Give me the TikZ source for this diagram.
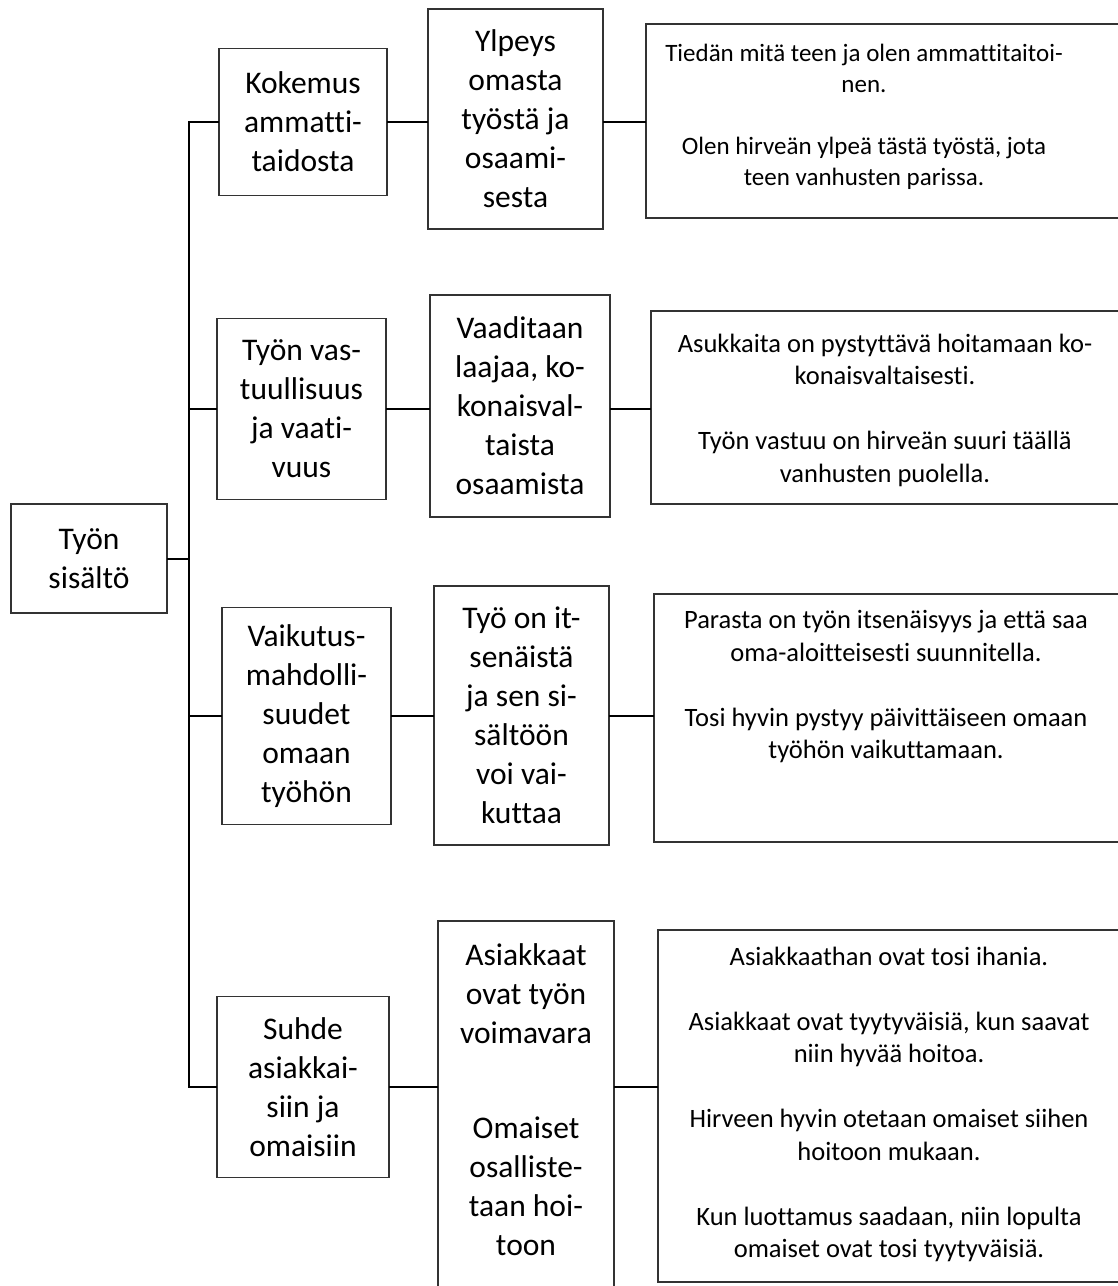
\documentclass[tikz,border=0pt]{standalone}
\usepackage{fontspec}
\setmainfont{Carlito}[Ligatures=NoCommon]

\begin{document}
\begin{tikzpicture}[x=1pt,y=-1pt,
                    box/.style={draw=black!80,line width=1.2pt,inner sep=0pt,
                                align=center,font=\fontsize{31.5}{39}\selectfont},
                    quote/.style={draw=black!80,line width=1.2pt,inner sep=0pt},
                    quotetext/.style={align=center,inner sep=0pt,
                                      font=\fontsize{26.5}{32.5}\selectfont},
                    link/.style={line width=2pt,line cap=rect}]
    \useasboundingbox (0,0) rectangle (1118,1286);

    %% Main theme and the spine.
    \node[box,minimum width=156pt,minimum height=109pt] (root) at (89,558.5) {Työn\\sisältö};
    \coordinate (spine) at (189,0);

    % Categories.
    \node[box,minimum width=168pt,minimum height=147pt] (k1) at (303,122)
        {Kokemus\\ammatti-\\taidosta};
    \node[box,minimum width=169pt,minimum height=181pt] (k2) at (301.5,409)
        {Työn vas-\\tuullisuus\\ja vaati-\\vuus};
    \node[box,minimum width=169pt,minimum height=217pt] (k3) at (306.5,716)
        {Vaikutus-\\mahdolli-\\suudet\\omaan\\työhön};
    \node[box,minimum width=172pt,minimum height=181pt] (k4) at (303,1087)
        {Suhde\\asiakkai-\\siin ja\\omaisiin};

    % Sub-categories.
    \node[box,minimum width=175pt,minimum height=220pt] (s1) at (515.5,119)
        {Ylpeys\\omasta\\työstä ja\\osaami-\\sesta};
    \node[box,minimum width=180pt,minimum height=222pt] (s2) at (520,406)
        {Vaaditaan\\laajaa, ko-\\konaisval-\\taista\\osaamista};
    \node[box,minimum width=175pt,minimum height=259pt] (s3) at (521.5,715.5)
        {Työ on it-\\senäistä\\ja sen si-\\sältöön\\voi vai-\\kuttaa};
    % this one runs off the bottom of the page
    \node[box,minimum width=176pt,minimum height=374pt] (s4) at (526,1108)
        {Asiakkaat\\ovat työn\\voimavara\\[56pt]Omaiset\\osalliste-\\taan hoi-\\toon\\[-23pt]};

    % Quotes: frames run off the right edge, text set on its own.
    \node[quote,minimum width=478pt,minimum height=194pt] (q1) at (885,121) {};
    \node[quote,minimum width=473pt,minimum height=193pt] (q2) at (887.5,407.5) {};
    \node[quote,minimum width=470pt,minimum height=248pt] (q3) at (889,718) {};
    \node[quote,minimum width=466pt,minimum height=352pt] (q4) at (891,1106) {};

    \node[quotetext,font=\fontsize{25}{31}\selectfont] (q1t) at (864,117)
        {Tiedän mitä teen ja olen ammattitaitoi-\\nen.\\[31pt]
         Olen hirveän ylpeä tästä työstä, jota\\teen vanhusten parissa.};
    \node[quotetext] (q2t) at (885,410)
        {Asukkaita on pystyttävä hoitamaan ko-\\konaisvaltaisesti.\\[32.5pt]
         Työn vastuu on hirveän suuri täällä\\vanhusten puolella.};
    \node[quotetext] (q3t) at (886,687)
        {Parasta on työn itsenäisyys ja että saa\\oma-aloitteisesti suunnitella.\\[32.5pt]
         Tosi hyvin pystyy päivittäiseen omaan\\työhön vaikuttamaan.};
    \node[quotetext] (q4t) at (889,1104.5)
        {Asiakkaathan ovat tosi ihania.\\[32.5pt]
         Asiakkaat ovat tyytyväisiä, kun saavat\\niin hyvää hoitoa.\\[32.5pt]
         Hirveen hyvin otetaan omaiset siihen\\hoitoon mukaan.\\[32.5pt]
         Kun luottamus saadaan, niin lopulta\\omaiset ovat tosi tyytyväisiä.};

    %% Connectors.
    \draw[link] (root.east) -- (root.east -| spine);
    \draw[link] (spine |- k1.west) -- (spine |- k4.west);
    \foreach \k/\s/\q in {k1/s1/q1,k2/s2/q2,k3/s3/q3,k4/s4/q4} {
        \draw[link] (spine |- \k.west) -- (\k.west);
        \draw[link] (\k.east) -- (\k.east -| \s.west);
        \draw[link] (\k.east -| \s.east) -- (\k.east -| \q.west);
    }
\end{tikzpicture}
\end{document}
